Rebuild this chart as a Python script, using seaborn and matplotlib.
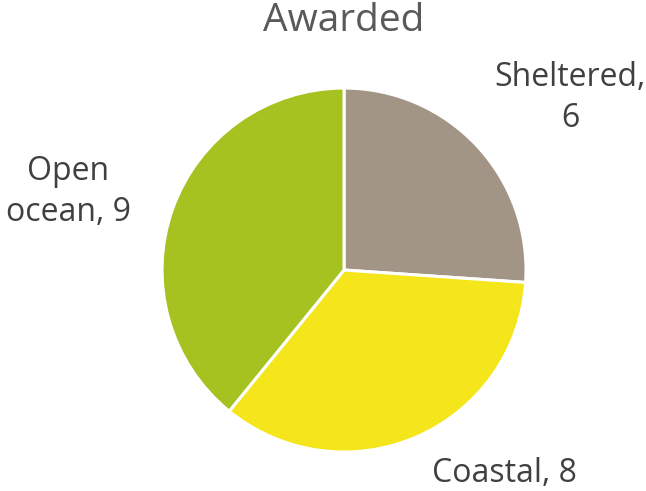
import matplotlib
matplotlib.use("Agg")
import matplotlib.pyplot as plt
import seaborn as sns

categories = ["Sheltered", "Coastal", "Open ocean"]
values = [6, 8, 9]
colors = ["#A39585", "#F5E51B", "#A5C220"]
label_texts = ["Sheltered,\n6", "Coastal, 8", "Open\nocean, 9"]
title = "Awarded"

sns.set_theme(style="white")
plt.rcParams["font.family"] = ["Open Sans", "DejaVu Sans"]

fig = plt.figure(figsize=(6.46, 4.91), dpi=100)
ax = fig.add_axes([0.2508, 0.0794, 0.5635, 0.7413])
wedges, _ = ax.pie(values, colors=colors, startangle=90, counterclock=False,
                   radius=1.0, wedgeprops=dict(edgecolor="white", linewidth=2.2))
ax.set_xlim(-1, 1)
ax.set_ylim(-1, 1)
ax.set_aspect("equal")
ax.axis("off")

label_pos = [(570, 98), (504, 473), (68, 192)]
for txt, (px, py) in zip(label_texts, label_pos):
    fig.text(px / 646, 1 - py / 491, txt, ha="center", va="center",
             fontsize=23, color="#404040", linespacing=1.33)

fig.text(344 / 646, 1 - 21 / 491, title, ha="center", va="center",
         fontsize=28, color="#595959")

fig.savefig("out.png", dpi=100)
